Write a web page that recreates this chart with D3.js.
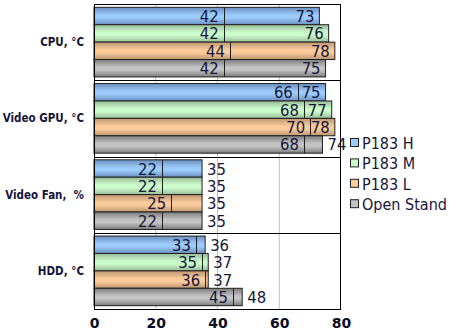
<!DOCTYPE html>
<html><head><meta charset="utf-8">
<script src="https://cdn.jsdelivr.net/npm/d3@7"></script>
<style>
body{margin:0;background:#fff;}
svg{display:block;}
.cond{font-family:"DejaVu Sans Condensed","DejaVu Sans",sans-serif;font-stretch:condensed;}
</style></head>
<body><svg id="c" width="450" height="330"></svg>
<script>
const categories = ["CPU, \u00B0C", "Video GPU, \u00B0C", "Video Fan,  %", "HDD, \u00B0C"];
const seriesNames = ["P183 H", "P183 M", "P183 L", "Open Stand"];
const lowH  = [42, 66, 22, 33];
const lowM  = [42, 68, 22, 35];
const lowL  = [44, 70, 25, 36];
const lowOS = [42, 68, 22, 45];
const highH  = [73, 75, 35, 36];
const highM  = [76, 77, 35, 37];
const highL  = [78, 78, 35, 37];
const highOS = [75, 74, 35, 48];
const xTicks = [0, 20, 40, 60, 80];

const lows = [lowH, lowM, lowL, lowOS];
const highs = [highH, highM, highL, highOS];
const colors = [
  {mid:"#9cccfc", edge:"#6a8fc0"},
  {mid:"#ccfccc", edge:"#98bc98"},
  {mid:"#fccc9c", edge:"#bc9670"},
  {mid:"#c4c4c4", edge:"#7c7c7c"}
];

const svg = d3.select("#c");
const L = 94, R = 341, T = 4, B = 309;
const x = d3.scaleLinear().domain([0, 80]).range([L, R]);
const y = d3.scaleBand().domain(categories).range([T, B]);
const inner = d3.scaleBand().domain(seriesNames).range([0, y.bandwidth()]).paddingOuter(0.19).paddingInner(0);

const defs = svg.append("defs");
colors.forEach((c, i) => {
  const g = defs.append("linearGradient").attr("id", "g" + i).attr("x1", 0).attr("y1", 0).attr("x2", 0).attr("y2", 1);
  g.append("stop").attr("offset", "0%").attr("stop-color", c.edge);
  g.append("stop").attr("offset", "45%").attr("stop-color", c.mid);
  g.append("stop").attr("offset", "60%").attr("stop-color", c.mid);
  g.append("stop").attr("offset", "100%").attr("stop-color", c.edge);
});

// grid
svg.append("g").selectAll("line").data(xTicks.slice(1, -1)).join("line")
  .attr("x1", d => x(d)).attr("x2", d => x(d)).attr("y1", T).attr("y2", B)
  .attr("stroke", "#c0c0c0").attr("stroke-width", 1);

// category separators
svg.append("g").selectAll("line").data(categories.slice(1)).join("line")
  .attr("x1", L).attr("x2", R).attr("y1", d => Math.round(y(d)) + 0.5).attr("y2", d => Math.round(y(d)) + 0.5)
  .attr("stroke", "#000").attr("stroke-width", 1);

const labelColor = "#16163a";
seriesNames.forEach((s, si) => {
  const g = svg.append("g");
  categories.forEach((cat, ci) => {
    const lo = lows[si][ci], hi = highs[si][ci];
    const y0 = y(cat) + inner(s);
    const h = inner.bandwidth();
    g.append("rect").attr("x", x(0)).attr("y", y0).attr("width", x(hi) - x(0)).attr("height", h)
      .attr("fill", "url(#g" + si + ")").attr("stroke", "#202020").attr("stroke-width", 1);
    g.append("line").attr("x1", Math.round(x(lo)) + 0.5).attr("x2", Math.round(x(lo)) + 0.5)
      .attr("y1", y0).attr("y2", y0 + h).attr("stroke", "#202020").attr("stroke-width", 1);
    g.append("text").attr("class", "cond").attr("x", x(lo) - 5).attr("y", y0 + h / 2 + 6)
      .attr("text-anchor", "end").attr("font-size", 16.5).attr("fill", labelColor).text(lo);
    const inside = (hi - lo >= 7) && hi >= 50;
    g.append("text").attr("class", "cond").attr("x", inside ? x(hi) - 5 : x(hi) + 5).attr("y", y0 + h / 2 + 6)
      .attr("text-anchor", inside ? "end" : "start").attr("font-size", 16.5).attr("fill", labelColor).text(hi);
  });
});

// plot border
svg.append("rect").attr("x", L + 0.5).attr("y", T + 0.5).attr("width", R - L - 1).attr("height", B - T)
  .attr("fill", "none").attr("stroke", "#000").attr("stroke-width", 1);

// category labels
svg.append("g").selectAll("text").data(categories).join("text")
  .attr("class", "cond")
  .attr("x", 84).attr("y", d => y(d) + y.bandwidth() / 2 + 4)
  .attr("text-anchor", "end").attr("font-size", 11.5).attr("font-weight", "bold")
  .attr("fill", "#14143a").style("white-space", "pre").text(d => d);

// x axis labels
const ax = svg.append("g").attr("transform", `translate(0,${B})`)
  .call(d3.axisBottom(x).tickValues(xTicks).tickSize(0).tickPadding(9).tickFormat(d3.format("d")));
ax.select(".domain").remove();
ax.selectAll("text").attr("font-family", "DejaVu Sans, sans-serif").attr("font-size", 14)
  .attr("font-weight", "bold").attr("fill", "#0a0a20");

// legend
const lg = svg.append("g");
seriesNames.forEach((s, i) => {
  const cy = 143 + i * 20.4;
  lg.append("rect").attr("x", 350.5).attr("y", cy - 4.5).attr("width", 8).attr("height", 8)
    .attr("fill", colors[i].mid).attr("stroke", "#202020").attr("stroke-width", 1);
  lg.append("text").attr("class", "cond").attr("x", 362).attr("y", cy + 6)
    .attr("font-size", 16).attr("fill", labelColor).text(s);
});
</script></body></html>
